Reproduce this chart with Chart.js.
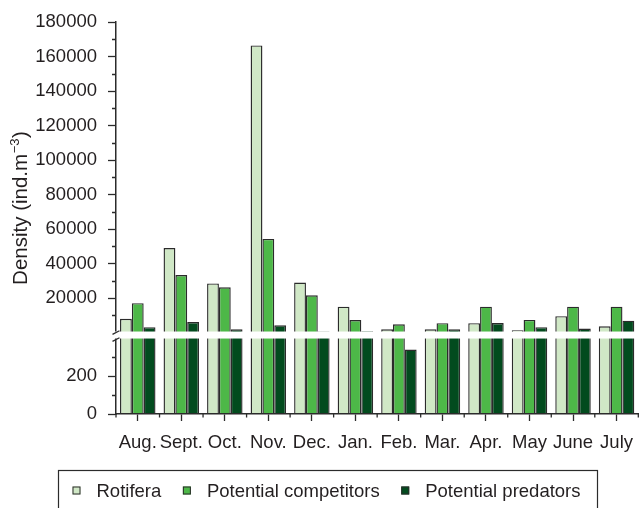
<!DOCTYPE html>
<html>
<head>
<meta charset="utf-8">
<script src="https://cdn.jsdelivr.net/npm/chart.js@4/dist/chart.umd.min.js"></script>
<style>
  html, body { margin: 0; padding: 0; background: #fff; overflow: hidden; }
</style>
</head>
<body>
<canvas id="graficoDensidade" width="644" height="508"></canvas>
<script>
// dados (ind.m-3)
const meses = ["Aug.", "Sept.", "Oct.", "Nov.", "Dec.", "Jan.", "Feb.", "Mar.", "Apr.", "May", "June", "July"];
const rotifera = [8000, 49000, 28500, 166500, 29000, 15000, 1900, 1900, 5400, 1300, 9500, 3600];
const competidores = [17000, 33300, 26200, 54300, 21600, 7200, 4800, 5400, 15000, 7300, 15000, 15000];
const predadores = [3100, 6100, 1900, 4200, 600, 800, 340, 1900, 5500, 3100, 2300, 6900];
const nomesSeries = ["Rotifera", "Potential competitors", "Potential predators"];

// eixo quebrado: parte de cima 0-180000, parte de baixo 0-430
const ticksAlto = [0, 180000, 10000];
const ticksBaixo = [0, 430, 100];

const FONTE = '"Liberation Sans", Arial, Helvetica, sans-serif';
const COR_TEXTO = "#231f20";
const COR_LINHA = "#2b2b2b";
const cores = ["#d0e8c6", "#4db848", "#024b1e"];

Chart.defaults.font.family = FONTE;
Chart.defaults.font.size = 18.5;
Chart.defaults.color = COR_TEXTO;

const series = [rotifera, competidores, predadores];
const datasets = [];
["yAlto", "yBaixo"].forEach(function (eixo) {
  series.forEach(function (serie, i) {
    datasets.push({
      label: nomesSeries[i],
      data: serie,
      yAxisID: eixo,
      stack: "s" + i,
      backgroundColor: cores[i],
      borderColor: COR_LINHA,
      borderWidth: 1.4,
      borderSkipped: "start",
      categoryPercentage: 0.815,
      barPercentage: 1.0
    });
  });
});

// recorta cada serie na sua parte do eixo e desenha a quebra, ticks menores, titulo e legenda
const pluginQuebra = {
  id: "pluginQuebra",
  beforeDatasetDraw(chart, args) {
    const esc = chart.scales[args.meta.yAxisID];
    const ca = chart.chartArea;
    chart.ctx.save();
    chart.ctx.beginPath();
    chart.ctx.rect(ca.left, esc.top, ca.right - ca.left, esc.bottom - esc.top);
    chart.ctx.clip();
  },
  afterDatasetDraw(chart) {
    chart.ctx.restore();
  },
  afterDraw(chart) {
    const ctx = chart.ctx;
    const ca = chart.chartArea;
    const alto = chart.scales.yAlto;
    const baixo = chart.scales.yBaixo;
    const x = chart.scales.x;
    const eixoX = alto.right;

    // faixa branca da quebra
    const yq = alto.bottom;
    ctx.save();
    ctx.fillStyle = "#fff";
    ctx.fillRect(eixoX - 10, yq - 1, ca.right - eixoX + 20, 7);

    ctx.strokeStyle = COR_LINHA;
    ctx.lineWidth = 1.3;
    [yq, yq + 7].forEach(function (yy) {
      ctx.beginPath();
      ctx.moveTo(eixoX - 3.5, yy + 1.8);
      ctx.lineTo(eixoX + 3.5, yy - 1.8);
      ctx.stroke();
    });

    // ticks menores do eixo y
    ctx.beginPath();
    alto.ticks.forEach(function (t) {
      if (t.value > 0 && t.value % 20000 !== 0) {
        const p = Math.round(alto.getPixelForValue(t.value)) + 0.5;
        ctx.moveTo(eixoX - 4, p);
        ctx.lineTo(eixoX, p);
      }
    });
    [100, 300].forEach(function (v) {
      const p = Math.round(baixo.getPixelForValue(v)) + 0.5;
      ctx.moveTo(eixoX - 4, p);
      ctx.lineTo(eixoX, p);
    });
    // ticks curtos entre os meses
    const passo = x.getPixelForValue(1) - x.getPixelForValue(0);
    for (let i = 0; i <= meses.length; i++) {
      const px = x.getPixelForValue(0) + (i - 0.5) * passo;
      ctx.moveTo(px, ca.bottom);
      ctx.lineTo(px, ca.bottom + 3.5);
    }
    ctx.stroke();

    // titulo do eixo y com sobrescrito
    ctx.translate(20, (alto.top + baixo.bottom) / 2 - 10);
    ctx.rotate(-Math.PI / 2);
    ctx.fillStyle = COR_TEXTO;
    ctx.textBaseline = "alphabetic";
    const base = "Density (ind.m", sup = "\u22123", fim = ")";
    ctx.font = "20.5px " + FONTE;
    const wBase = ctx.measureText(base).width;
    const wFim = ctx.measureText(fim).width;
    ctx.font = "13px " + FONTE;
    const wSup = ctx.measureText(sup).width + 1;
    let tx = -(wBase + wSup + wFim) / 2;
    ctx.font = "20.5px " + FONTE;
    ctx.fillText(base, tx, 7);
    tx += wBase;
    ctx.font = "13px " + FONTE;
    ctx.fillText(sup, tx + 0.5, -1);
    tx += wSup;
    ctx.font = "20.5px " + FONTE;
    ctx.fillText(fim, tx, 7);
    ctx.restore();

    // legenda com caixa
    ctx.save();
    ctx.strokeStyle = COR_LINHA;
    ctx.lineWidth = 1.2;
    ctx.strokeRect(58.5, 470.5, 539, 60);
    ctx.font = "18.5px " + FONTE;
    ctx.fillStyle = COR_TEXTO;
    ctx.textBaseline = "alphabetic";
    let lx = 72.5;
    for (let i = 0; i < 3; i++) {
      const ds = chart.data.datasets[i];
      ctx.fillStyle = ds.backgroundColor;
      ctx.fillRect(lx, 486.5, 8, 8);
      ctx.lineWidth = 1;
      ctx.strokeRect(lx + 0.5, 487, 7, 7);
      ctx.fillStyle = COR_TEXTO;
      ctx.fillText(ds.label, lx + 24, 497);
      lx += 24 + ctx.measureText(ds.label).width + 21.6;
    }
    ctx.restore();
  }
};

new Chart(document.getElementById("graficoDensidade"), {
  type: "bar",
  data: { labels: meses, datasets: datasets },
  plugins: [pluginQuebra],
  options: {
    responsive: false,
    animation: false,
    devicePixelRatio: 1,
    layout: { padding: { top: 21, right: 0, bottom: 0, left: 0 } },
    plugins: { legend: { display: false }, tooltip: { enabled: false } },
    scales: {
      x: {
        grid: { display: true, drawOnChartArea: false, offset: false, tickLength: 7, tickColor: COR_LINHA, tickWidth: 1.3 },
        border: { color: COR_LINHA, width: 1.5, z: 1 },
        ticks: { padding: 11, maxRotation: 0, autoSkip: false },
        afterFit: function (s) { s.height = 94; }
      },
      yBaixo: {
        type: "linear", position: "left", stack: "densidade", stackWeight: 81.7, stacked: false,
        min: ticksBaixo[0], max: ticksBaixo[1],
        ticks: {
          stepSize: ticksBaixo[2], autoSkip: false, padding: 11,
          callback: function (v) { return (v === 0 || v === 200) ? String(v) : ""; }
        },
        grid: {
          drawOnChartArea: false, tickLength: 8, tickWidth: 1.3,
          tickColor: function (c) { return (c.tick && (c.tick.value === 0 || c.tick.value === 200)) ? COR_LINHA : "rgba(0,0,0,0)"; }
        },
        border: { color: COR_LINHA, width: 1.5 },
        afterFit: function (s) { s.width = 116; }
      },
      yAlto: {
        type: "linear", position: "left", stack: "densidade", stackWeight: 311.3, stacked: false,
        min: ticksAlto[0], max: ticksAlto[1],
        ticks: {
          stepSize: ticksAlto[2], autoSkip: false, padding: 11,
          callback: function (v) { return (v > 0 && v % 20000 === 0) ? String(v) : ""; }
        },
        grid: {
          drawOnChartArea: false, tickLength: 8, tickWidth: 1.3,
          tickColor: function (c) { return (c.tick && c.tick.value > 0 && c.tick.value % 20000 === 0) ? COR_LINHA : "rgba(0,0,0,0)"; }
        },
        border: { color: COR_LINHA, width: 1.5 },
        afterFit: function (s) { s.width = 116; }
      }
    }
  }
});
</script>
</body>
</html>
